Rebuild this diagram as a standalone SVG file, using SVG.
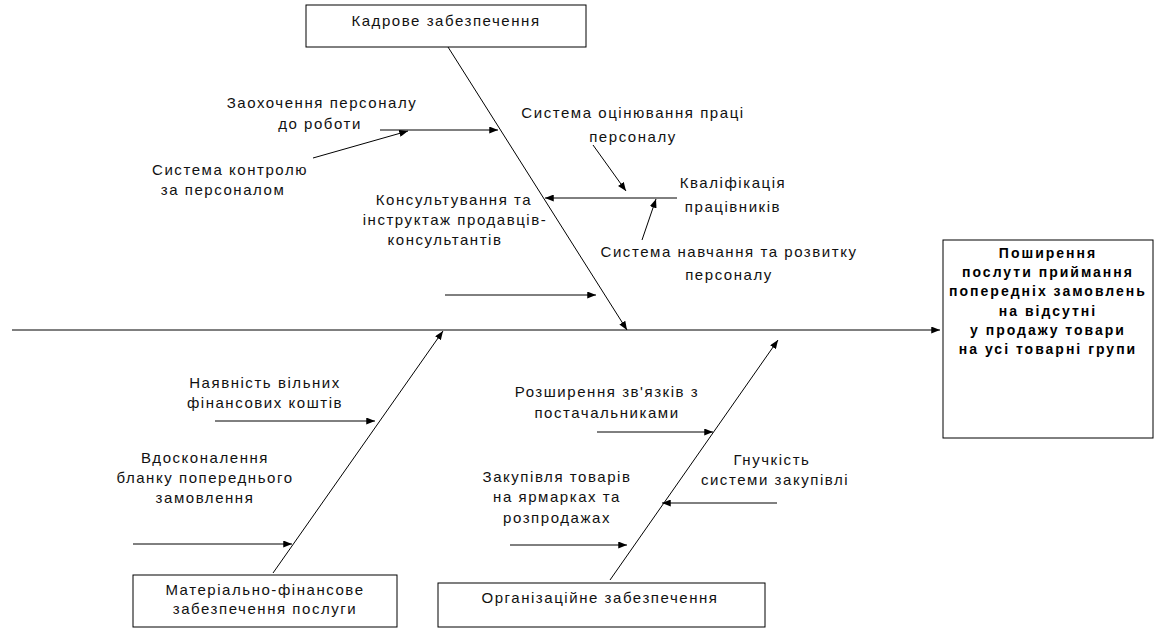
<svg xmlns="http://www.w3.org/2000/svg" width="1155" height="628" viewBox="0 0 1155 628">
<style>
.bg{fill:#fff}
.box{fill:#fff;stroke:#000;stroke-width:1}
.t{font-family:"Liberation Sans",Arial,sans-serif;font-size:15px;fill:#111;letter-spacing:1.55px;text-anchor:middle}
.b{font-family:"Liberation Sans",Arial,sans-serif;font-size:14px;font-weight:bold;fill:#000;letter-spacing:2px;text-anchor:middle}
.ln{stroke:#000;stroke-width:1;fill:none;marker-end:url(#ah)}
.sp{stroke:#000;stroke-width:1;fill:none}
</style>
<defs>
<marker id="ah" viewBox="0 0 10 8" refX="10" refY="4" markerWidth="9" markerHeight="7" markerUnits="userSpaceOnUse" orient="auto">
<path d="M0,0 L10,4 L0,8 z" fill="#000"/>
</marker>
</defs>
<rect class="bg" x="0" y="0" width="1155" height="628"/>
<g id="connectors">
<line class="sp" x1="12" y1="330" x2="940" y2="330" marker-end="url(#ah)"/>
<line class="ln" x1="448" y1="47" x2="627" y2="330"/>
<line class="ln" x1="273" y1="573" x2="443" y2="331"/>
<line class="ln" x1="610" y1="580" x2="778" y2="340"/>
<line class="ln" x1="380" y1="130" x2="498" y2="130"/>
<line class="ln" x1="313" y1="158" x2="408" y2="131"/>
<line class="ln" x1="593" y1="145" x2="626" y2="191"/>
<line class="ln" x1="677" y1="198" x2="545" y2="198"/>
<line class="ln" x1="642" y1="240" x2="656" y2="199"/>
<line class="ln" x1="445" y1="295" x2="596" y2="295"/>
<line class="ln" x1="215" y1="421" x2="375" y2="421"/>
<line class="ln" x1="133" y1="544" x2="292" y2="544"/>
<line class="ln" x1="597" y1="432" x2="713" y2="432"/>
<line class="ln" x1="510" y1="545" x2="627" y2="545"/>
<line class="ln" x1="777" y1="503" x2="662" y2="503"/>
</g>
<g id="n-kadrove"><rect class="box" x="306" y="5" width="280" height="42"/><text class="t" x="446" y="26">Кадрове забезпечення</text></g>
<g id="n-result"><rect class="box" x="943" y="240" width="210" height="198"/>
<text class="b"><tspan x="1048" y="258">Поширення</tspan><tspan x="1048" y="277">послути приймання</tspan><tspan x="1048" y="296">попередніх замовлень</tspan><tspan x="1048" y="316">на відсутні</tspan><tspan x="1048" y="335">у продажу товари</tspan><tspan x="1048" y="354">на усі товарні групи</tspan></text></g>
<g id="n-material"><rect class="box" x="133" y="575" width="264" height="52"/><text class="t"><tspan x="265" y="595">Матеріально-фінансове</tspan><tspan x="265" y="614">забезпечення послуги</tspan></text></g>
<g id="n-org"><rect class="box" x="438" y="583" width="327" height="44"/><text class="t" x="600" y="603">Організаційне забезпечення</text></g>
<g id="n-zaoh"><text class="t"><tspan x="322" y="108">Заохочення персоналу</tspan><tspan x="320" y="129">до роботи</tspan></text></g>
<g id="n-kontr"><text class="t"><tspan x="230" y="175">Система контролю</tspan><tspan x="223" y="195">за персоналом</tspan></text></g>
<g id="n-kons"><text class="t"><tspan x="454" y="205">Консультування та</tspan><tspan x="455" y="225">інструктаж продавців-</tspan><tspan x="445" y="245">консультантів</tspan></text></g>
<g id="n-ocin"><text class="t"><tspan x="633" y="118">Система оцінювання праці</tspan><tspan x="633" y="142">персоналу</tspan></text></g>
<g id="n-kval"><text class="t"><tspan x="733" y="188">Кваліфікація</tspan><tspan x="733" y="212">працівників</tspan></text></g>
<g id="n-navch"><text class="t"><tspan x="729" y="257">Система навчання та розвитку</tspan><tspan x="729" y="280">персоналу</tspan></text></g>
<g id="n-nayav"><text class="t"><tspan x="265" y="388">Наявність вільних</tspan><tspan x="265" y="408">фінансових коштів</tspan></text></g>
<g id="n-vdos"><text class="t"><tspan x="205" y="463">Вдосконалення</tspan><tspan x="205" y="483">бланку попереднього</tspan><tspan x="205" y="503">замовлення</tspan></text></g>
<g id="n-rozsh"><text class="t"><tspan x="607" y="397">Розширення зв'язків з</tspan><tspan x="607" y="418">постачальниками</tspan></text></g>
<g id="n-zakup"><text class="t"><tspan x="557" y="482">Закупівля товарів</tspan><tspan x="557" y="502">на ярмарках та</tspan><tspan x="557" y="523">розпродажах</tspan></text></g>
<g id="n-gnuch"><text class="t"><tspan x="772" y="465">Гнучкість</tspan><tspan x="775" y="485">системи закупівлі</tspan></text></g>
</svg>
